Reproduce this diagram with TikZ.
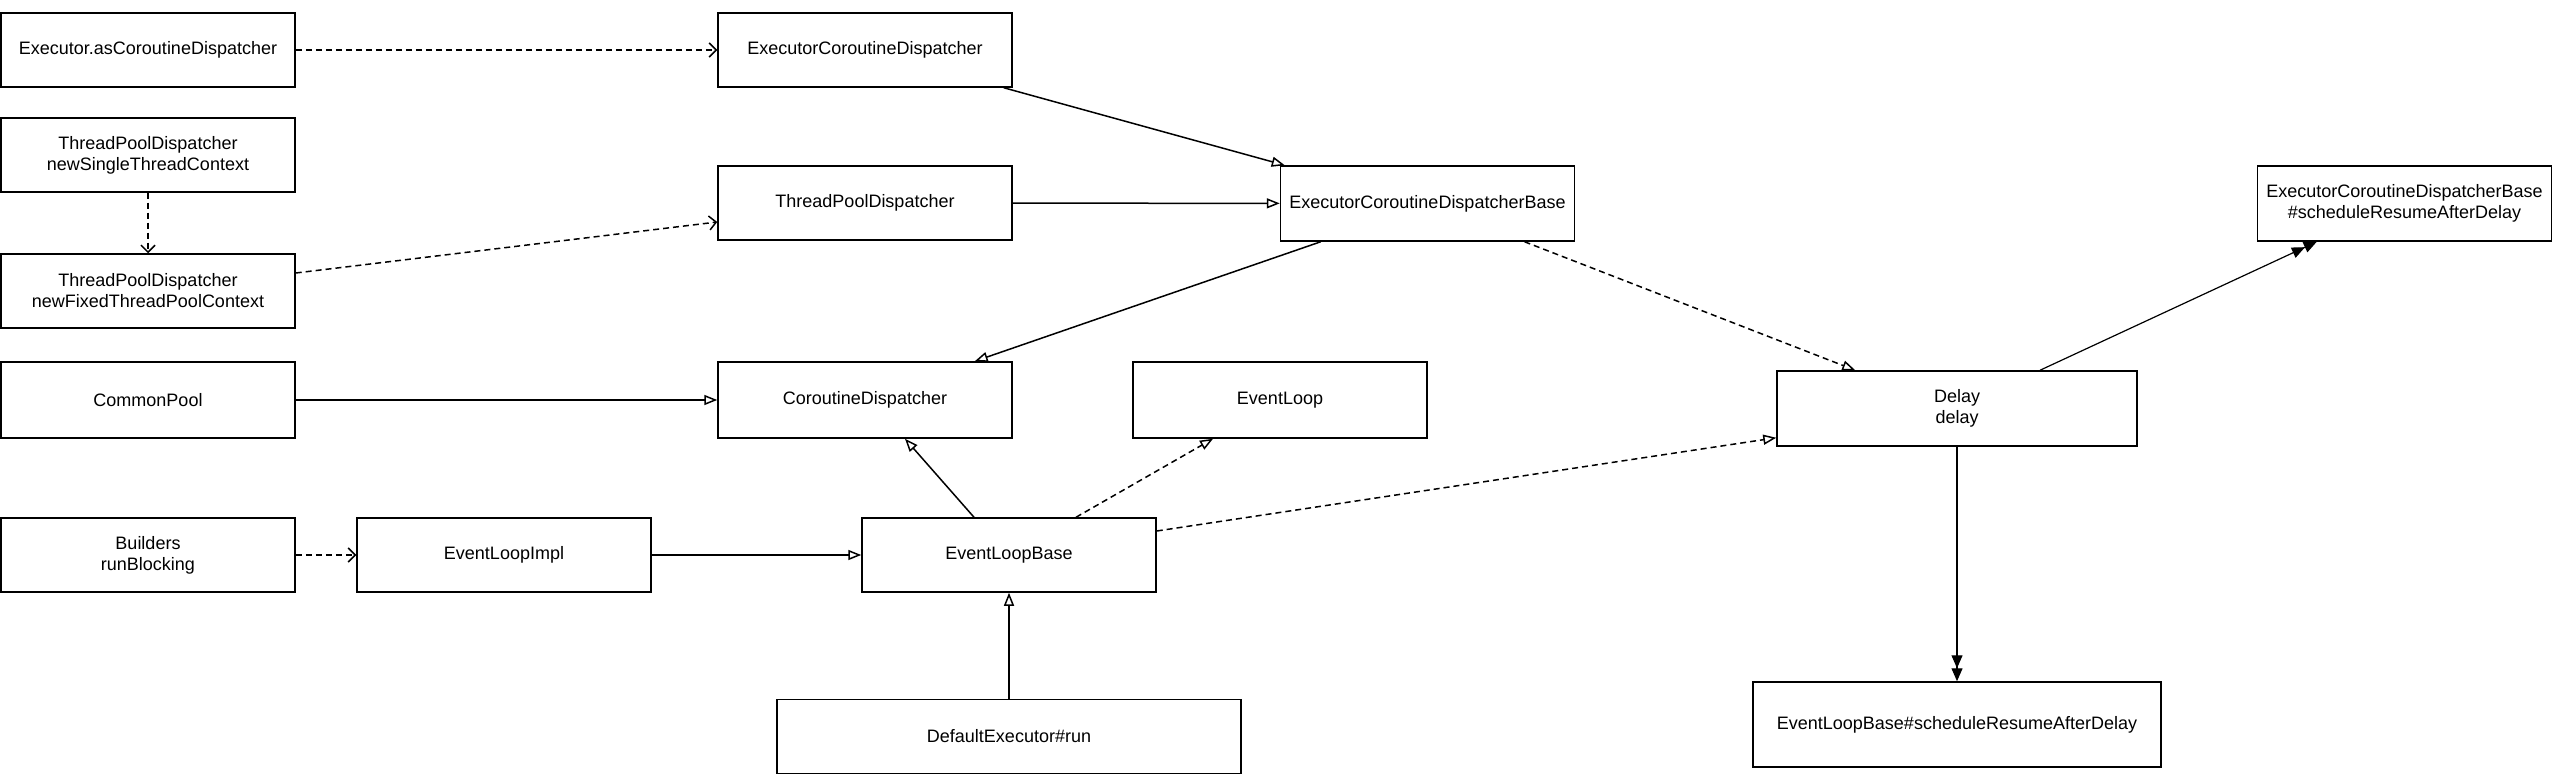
\documentclass[tikz,border=0pt]{standalone}
\usepackage{fontspec}
\setmainfont{Liberation Sans}
\usetikzlibrary{arrows.meta}

\begin{document}
\begin{tikzpicture}[x=1pt,y=-1pt,
  cls/.style={draw, line width=1.5pt, minimum width=294pt, minimum height=74pt,
    inner sep=0pt, align=center, font=\fontsize{18}{21}\selectfont},
  uses/.style={line width=1.5pt, dash pattern=on 6pt off 4pt,
    -{Straight Barb[length=7pt,width=14pt,line width=1.5pt]}},
  extends/.style={line width=1.5pt, -{Triangle[open,length=13pt,width=10pt,line width=1.5pt]}},
  implements/.style={extends, dash pattern=on 6pt off 4pt},
  calls/.style={line width=1.2pt, -{Triangle[length=13pt,width=11pt] Triangle[length=13pt,width=11pt]}}]

\useasboundingbox (0,0) rectangle (2571,775);

\node[cls] (asdisp) at (148,50) {Executor.asCoroutineDispatcher};
\node[cls] (excd) at (865,50) {ExecutorCoroutineDispatcher};
\node[cls] (single) at (148,155) {ThreadPoolDispatcher\\newSingleThreadContext};
\node[cls] (tpd) at (865,203) {ThreadPoolDispatcher};
\node[cls, minimum height=75pt] (ecdb) at (1427.5,203.5) {ExecutorCoroutineDispatcherBase};
\node[cls, minimum height=75pt] (ecdbsched) at (2404.5,203.5) {ExecutorCoroutineDispatcherBase\\\#scheduleResumeAfterDelay};
\node[cls] (fixed) at (148,291) {ThreadPoolDispatcher\\newFixedThreadPoolContext};
\node[cls, minimum height=76pt] (common) at (148,400) {CommonPool};
\node[cls, minimum height=76pt] (cd) at (865,400) {CoroutineDispatcher};
\node[cls, minimum height=76pt] (evloop) at (1280,400) {EventLoop};
\node[cls, minimum width=360pt, minimum height=75pt] (delay) at (1957,408.5) {Delay\\delay};
\node[cls] (builders) at (148,555) {Builders\\runBlocking};
\node[cls] (loopimpl) at (504,555) {EventLoopImpl};
\node[cls] (elb) at (1009,555) {EventLoopBase};
\node[cls, minimum width=464pt] (defexec) at (1009,736.5) {DefaultExecutor\#run};
\node[cls, minimum width=408pt, minimum height=85pt] (elbsched) at (1957,724.5) {EventLoopBase\#scheduleResumeAfterDelay};

\draw[uses] (asdisp) -- (excd);
\draw[uses] (single) -- (fixed);
\draw[uses] ([yshift=18pt]fixed.east) -- ([yshift=-19pt]tpd.west);
\draw[uses] (builders) -- (loopimpl);

\draw[extends] ([xshift=-9pt]excd.south east) -- ([xshift=5pt]ecdb.north west);
\draw[extends] (tpd) -- (ecdb);
\draw[extends] ([xshift=41pt]ecdb.south west) -- ([xshift=-38pt]cd.north east);
\draw[extends] (common) -- (cd);
\draw[extends] ([xshift=-35pt]elb.north) -- ([xshift=40pt]cd.south);
\draw[extends] (loopimpl) -- (elb);
\draw[extends, line width=1.1pt] (defexec) -- (elb);

\draw[implements] ([xshift=97pt]ecdb.south) -- ([xshift=79pt]delay.north west);
\draw[implements] ([xshift=67pt]elb.north) -- ([xshift=-67pt]evloop.south);
\draw[implements] ([yshift=24pt]elb.east) -- ([yshift=9pt]delay.south west);

\draw[calls] ([xshift=83pt]delay.north) -- ([xshift=60pt]ecdbsched.south west);
\draw[calls] (delay) -- (elbsched);

\end{tikzpicture}
\end{document}
